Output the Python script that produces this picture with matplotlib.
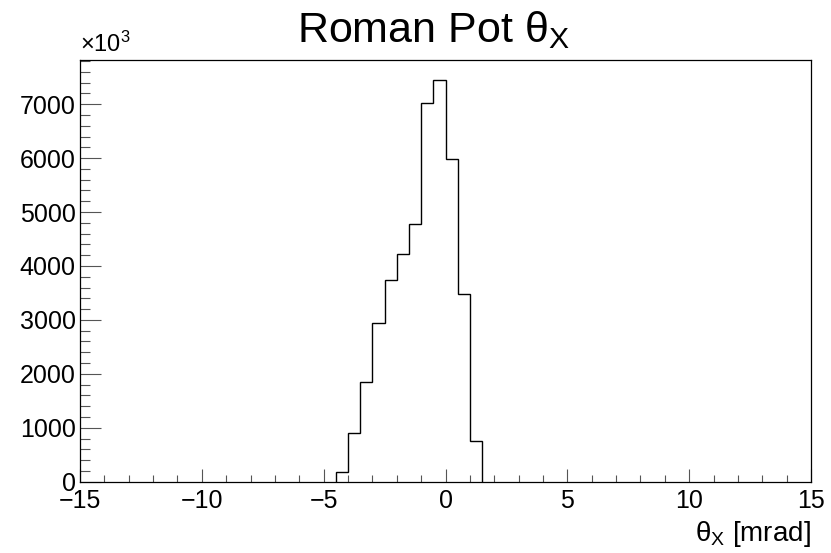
import numpy as np
import matplotlib
matplotlib.use("Agg")
import matplotlib.pyplot as plt
from matplotlib.ticker import MultipleLocator

plt.rcParams["font.family"] = ["Liberation Sans", "DejaVu Sans"]
plt.rcParams["mathtext.fontset"] = "custom"
plt.rcParams["mathtext.rm"] = "Liberation Sans"
plt.rcParams["mathtext.it"] = "Liberation Sans:italic"
plt.rcParams["mathtext.default"] = "regular"

# theta_x histogram, 0.5 mrad bins (counts in units of 10^3)
bin_edges = np.arange(-4.5, 1.5 + 0.25, 0.5)
counts = [173, 910, 1857, 2940, 3739, 4222, 4779, 7026, 7447, 5992, 3485, 755]

fig = plt.figure(figsize=(8.31, 5.53), dpi=100)
ax = fig.add_axes([0.0963, 0.129, 0.8797, 0.7625])

ax.stairs(counts, bin_edges, color="black", linewidth=1.0)

ax.set_xlim(-15, 15)
ax.set_ylim(0, 1.05 * max(counts))

ax.xaxis.set_major_locator(MultipleLocator(5))
ax.xaxis.set_minor_locator(MultipleLocator(1))
ax.yaxis.set_major_locator(MultipleLocator(1000))
ax.yaxis.set_minor_locator(MultipleLocator(200))

ax.tick_params(which="both", direction="in", top=False, right=False,
               labelsize=18, width=0.8, color="#555555")
ax.tick_params(axis="x", which="major", length=9.5, pad=5)
ax.tick_params(axis="x", which="minor", length=5)
ax.tick_params(axis="y", which="major", length=15, pad=3)
ax.tick_params(axis="y", which="minor", length=7.5)

for s in ax.spines.values():
    s.set_linewidth(0.9)

fig.text(0.522, 0.945, r"Roman Pot $\theta_{X}$", fontsize=31,
         ha="center", va="center")
fig.text(0.976, 0.008, r"$\theta_{X}$ [mrad]", fontsize=20,
         ha="right", va="bottom")
fig.text(0.0963, 0.897, r"$\times10^{3}$", fontsize=17,
         ha="left", va="bottom")

fig.savefig("out.png", dpi=100)
